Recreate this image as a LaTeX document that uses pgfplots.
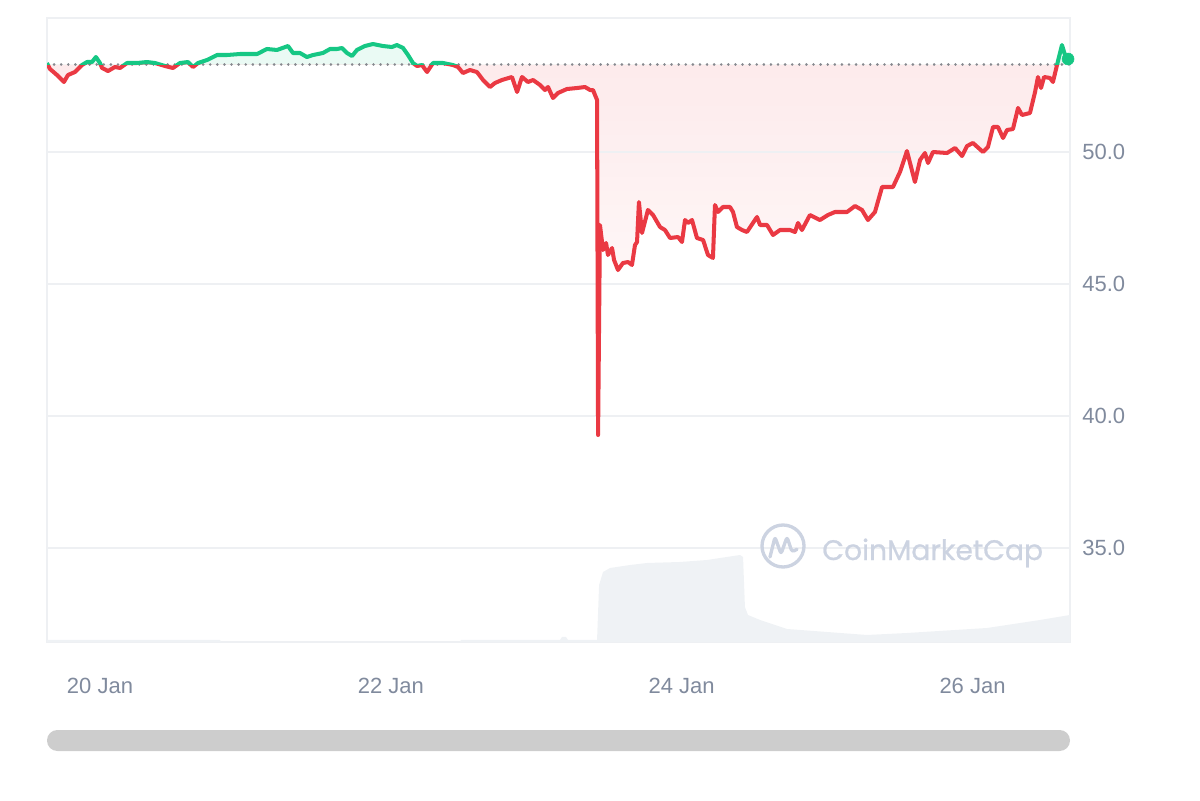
\documentclass[border=0pt]{standalone}
\usepackage{pgfplots}
\pgfplotsset{compat=1.18}
\usepackage{pgfplotstable}
\usepgfplotslibrary{fillbetween}
\usetikzlibrary{fadings}
\usepackage{fontspec}
\setmainfont{Liberation Sans}
\newfontfamily\cmcfont{Poppins}[FakeBold=0.8]
\definecolor{upc}{RGB}{22,199,132}
\definecolor{downc}{RGB}{234,57,67}
\definecolor{gridc}{RGB}{238,240,243}
\definecolor{labelc}{RGB}{128,138,157}
\definecolor{volc}{RGB}{239,242,245}
\definecolor{dotc}{RGB}{135,137,143}
\definecolor{wmc}{RGB}{204,211,225}
\definecolor{barc}{RGB}{205,205,205}

\pgfplotstableread{
x y
19.6355 53.371
19.656 53.144
19.704 52.917
19.752 52.652
19.780 52.917
19.828 53.030
19.876 53.295
19.911 53.409
19.945 53.409
19.972 53.598
20.000 53.371
20.014 53.182
20.055 53.068
20.103 53.220
20.138 53.182
20.186 53.371
20.254 53.371
20.323 53.409
20.378 53.371
20.447 53.258
20.502 53.182
20.550 53.371
20.605 53.409
20.640 53.220
20.674 53.371
20.736 53.485
20.805 53.674
20.873 53.674
20.963 53.712
21.080 53.712
21.148 53.902
21.217 53.864
21.293 54.015
21.327 53.750
21.375 53.750
21.423 53.598
21.465 53.674
21.533 53.750
21.582 53.902
21.630 53.902
21.664 53.939
21.699 53.750
21.733 53.636
21.767 53.864
21.822 54.015
21.877 54.091
21.946 54.015
22.008 53.977
22.042 54.053
22.084 53.939
22.118 53.674
22.152 53.371
22.180 53.258
22.214 53.295
22.249 53.030
22.290 53.371
22.359 53.371
22.427 53.295
22.462 53.220
22.496 52.992
22.544 53.106
22.592 53.030
22.634 52.727
22.682 52.462
22.716 52.614
22.764 52.727
22.833 52.841
22.868 52.273
22.902 52.841
22.943 52.652
22.978 52.727
23.026 52.538
23.060 52.348
23.081 52.462
23.115 52.045
23.149 52.235
23.211 52.386
23.280 52.424
23.335 52.462
23.370 52.348
23.390 52.348
23.418 51.970
23.425 39.280
23.438 47.235
23.459 46.288
23.480 46.553
23.493 46.098
23.521 46.364
23.535 45.909
23.562 45.530
23.596 45.795
23.631 45.833
23.658 45.720
23.679 46.477
23.693 46.591
23.706 48.106
23.727 46.932
23.768 47.803
23.803 47.614
23.851 47.159
23.885 47.045
23.920 46.742
23.975 46.780
24.002 46.591
24.023 47.424
24.043 47.311
24.071 47.424
24.105 46.742
24.147 46.667
24.181 46.098
24.215 45.985
24.229 47.992
24.250 47.727
24.284 47.917
24.332 47.917
24.353 47.727
24.380 47.159
24.415 47.045
24.449 46.970
24.490 47.311
24.518 47.538
24.539 47.235
24.587 47.235
24.628 46.856
24.676 47.045
24.745 47.045
24.779 46.970
24.800 47.311
24.827 47.045
24.882 47.614
24.951 47.424
25.006 47.614
25.054 47.727
25.137 47.727
25.192 47.955
25.240 47.803
25.281 47.424
25.329 47.727
25.378 48.674
25.453 48.674
25.501 49.242
25.522 49.583
25.549 50.038
25.604 48.864
25.639 49.697
25.673 49.962
25.694 49.583
25.728 50.000
25.825 49.962
25.880 50.152
25.928 49.848
25.962 50.227
26.003 50.341
26.072 50.000
26.106 50.189
26.141 50.947
26.175 50.947
26.210 50.530
26.237 50.833
26.278 50.871
26.313 51.667
26.340 51.402
26.395 51.477
26.430 52.273
26.450 52.841
26.471 52.424
26.492 52.841
26.533 52.803
26.553 52.652
26.581 53.295
26.615 54.053
26.636 53.674
26.657 53.523
}\price

\pgfplotstableread{
x y
19.6355 31.515
20.825 31.515
20.832 31.458
22.476 31.458
22.483 31.515
23.163 31.515
23.177 31.629
23.205 31.629
23.218 31.515
23.418 31.515
23.432 33.598
23.459 34.091
23.507 34.242
23.645 34.356
23.762 34.432
23.988 34.470
24.174 34.545
24.264 34.621
24.401 34.735
24.422 34.659
24.435 32.765
24.456 32.462
24.539 32.273
24.724 31.932
25.274 31.705
25.549 31.780
26.100 31.970
26.464 32.273
26.6704 32.462
}\volume

\pgfplotsset{
  overlay axis/.style={
    scale only axis, width=736.56pt, anchor=south west,
    xmin=19.6355, xmax=26.6704, hide axis, clip=true,
  },
}

\begin{document}
\begin{tikzpicture}
% main axis: frame, grid, labels, volume, reference line
\begin{axis}[
  at={(33.84pt,113.76pt)}, anchor=south west,
  scale only axis, width=736.56pt, height=449.28pt,
  xmin=19.6355, xmax=26.6704, ymin=31.439, ymax=55.076,
  axis line style={draw=gridc, line width=1.1pt},
  xtick={20,22,24,26}, xticklabels={20 Jan,22 Jan,24 Jan,26 Jan},
  ytick={35,40,45,50}, yticklabels={35.0,40.0,45.0,50.0},
  yticklabel pos=right,
  ymajorgrids, grid style={draw=gridc, line width=1.1pt},
  major tick length=0pt,
  tick label style={font=\fontsize{15.84}{18}\selectfont, text=labelc, inner sep=0pt},
  xticklabel style={anchor=center, yshift=-31.68pt},
  yticklabel style={anchor=west, xshift=8.64pt},
]
\addplot[fill=volc, draw=none] table[x=x,y=y] {\volume} \closedcycle;
\addplot[dotc, line width=2pt, dash pattern=on 0.01pt off 5.1pt, line cap=round] coordinates {(19.6355,53.31) (26.6704,53.31)};
\end{axis}
% below the reference price (red)
\begin{axis}[overlay axis, at={(33.84pt,113.76pt)}, height=415.71pt, ymin=31.439, ymax=53.31]
\addplot[name path=price, draw=none] table[x=x,y=y] {\price};
\addplot[name path=base, draw=none] coordinates {(19.6355,53.31) (26.657,53.31)};
\addplot[draw=none, fill=downc, fill opacity=0.11, path fading=south] fill between[of=price and base];
\addplot[downc, line width=2.9pt, line join=round] table[x=x,y=y] {\price};
\end{axis}
% above the reference price (green)
\begin{axis}[overlay axis, at={(33.84pt,529.47pt)}, height=33.57pt, ymin=53.31, ymax=55.076]
\addplot[name path=price, draw=none] table[x=x,y=y] {\price};
\addplot[name path=base, draw=none] coordinates {(19.6355,53.31) (26.657,53.31)};
\addplot[draw=none, fill=upc, fill opacity=0.09] fill between[of=price and base];
\addplot[upc, line width=2.9pt, line join=round] table[x=x,y=y] {\price};
\addplot[only marks, mark=*, mark size=4.3pt, mark options={fill=upc, draw=upc}] coordinates {(26.657,53.523)};
\end{axis}
% watermark
\draw[wmc, line width=2.4pt] (563.76pt,182.88pt) circle (15.12pt);
\draw[wmc, line width=2.4pt, line join=round, line cap=round, rounded corners=2pt]
  (554.4pt,174.96pt) -- (558.0pt,189.36pt) -- (562.32pt,177.12pt) -- (566.64pt,189.36pt) -- (570.24pt,178.56pt) -- (573.84pt,180.5pt);
\node[anchor=base west, inner sep=0pt, text=wmc, font=\cmcfont\fontsize{20.3}{24}\selectfont] at (591.84pt,172.8pt) {CoinMarketCap};
% scrollbar
\fill[barc, rounded corners=7.5pt] (33.84pt,35.28pt) rectangle (770.4pt,50.4pt);
\path (0,0) rectangle (864pt,576pt);
\end{tikzpicture}
\end{document}
